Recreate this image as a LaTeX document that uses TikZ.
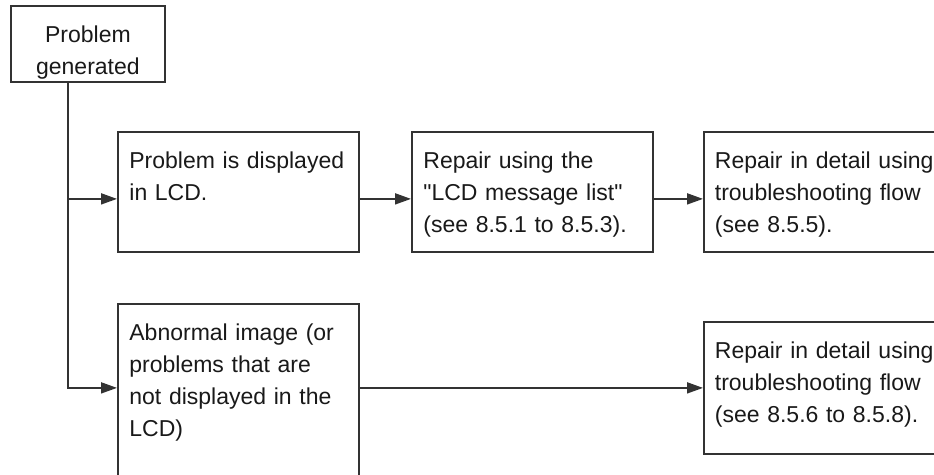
\documentclass[tikz,border=0pt]{standalone}
\usepackage{fontspec}
\setmainfont{Liberation Sans}[Ligatures=TeXOff]
\usetikzlibrary{arrows.meta}
\newcommand\boxfont{\fontsize{11.5pt}{16pt}\selectfont\hyphenpenalty=10000\relax}
\begin{document}
\begin{tikzpicture}[x=0.5pt,y=-0.5pt,line width=0.9pt]
            %
            % `stepbox' is used for the boxes, text set from the top left.
            % `startbox' is used for the first box, text centred.
            % `wideflow' is used for the boxes cut by the right edge.
            % `flow' is used for the arrows between the boxes.
            \tikzstyle{stepbox} = [draw=black!80,anchor=north west,align=left,text=black!90,
                font=\boxfont,text width=109pt,
                inner xsep=5.75pt,inner ysep=0pt,text height=18.5pt,text depth=41.5pt]
            \tikzstyle{startbox} = [stepbox,align=center,text width=65.5pt,text depth=19.5pt]
            \tikzstyle{wideflow} = [stepbox,text width=130pt,inner xsep=5.5pt]
            \tikzstyle{flow} = [draw=black!80,-{Triangle[length=8pt,width=5.5pt]}]
            %
            \useasboundingbox (0,0) rectangle (934,475);
            \clip (0,0) rectangle (934,475);
            %
            % Boxes
            \node[startbox] (start) at (10,5) {Problem\\generated};
            \node[stepbox] (lcd) at (117,131) {Problem is displayed\\in LCD.};
            \node[stepbox] (msglist) at (411,131) {Repair using the\\"LCD message list"\\(see 8.5.1 to 8.5.3).};
            \node[wideflow] (flowa) at (703,131) {Repair in detail using\\troubleshooting flow\\(see 8.5.5).};
            \node[stepbox,text depth=100pt] (abn) at (117,303) {Abnormal image (or\\problems that are\\not displayed in the\\LCD)};
            \node[wideflow,text depth=47.5pt] (flowb) at (703,321) {Repair in detail using\\troubleshooting flow\\(see 8.5.6 to 8.5.8).};
            %
            % Arrows
            \coordinate (split) at ([xshift=-10pt]start.south);
            \draw[flow] (split) |- ([yshift=-3.5pt]lcd.west);
            \draw[flow] ([yshift=-3.5pt]lcd.east) -- ([yshift=-3.5pt]msglist.west);
            \draw[flow] ([yshift=-3.5pt]msglist.east) -- ([yshift=-3.5pt]flowa.west);
            \draw[flow] (split) |- (abn.west |- flowb.west);
            \draw[flow] (abn.east |- flowb.west) -- (flowb.west);
\end{tikzpicture}
\end{document}
